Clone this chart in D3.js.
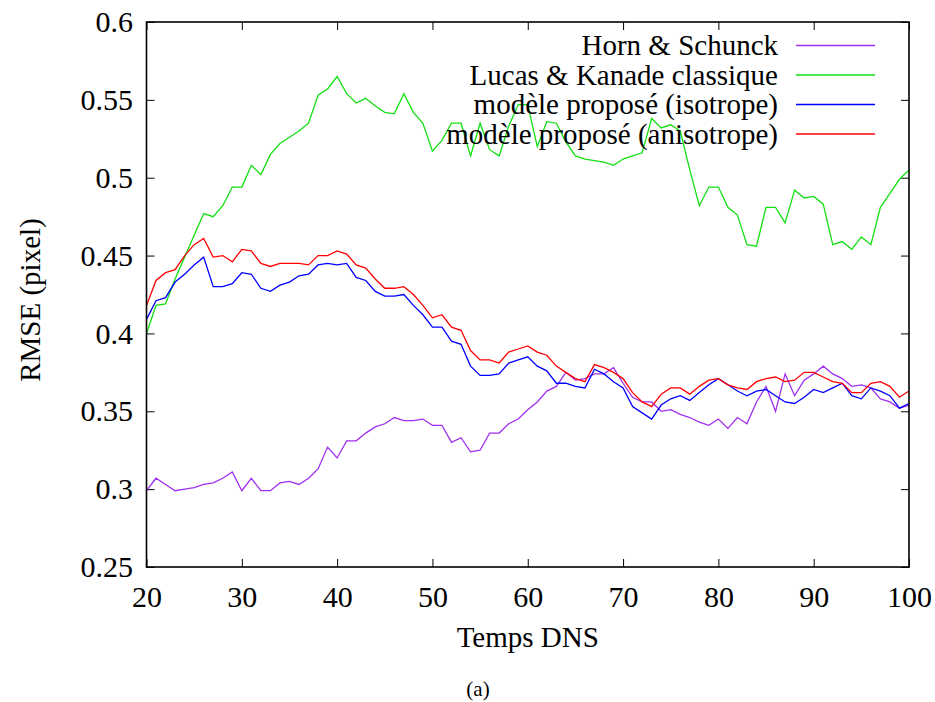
<!DOCTYPE html>
<html>
<head>
<meta charset="utf-8">
<script src="https://cdn.jsdelivr.net/npm/d3@7"></script>
<style>
  body { margin: 0; background: #fff; }
  svg text { font-family: "Liberation Serif", "Times New Roman", Times, "DejaVu Serif", serif; fill: #000; }
</style>
</head>
<body>
<script>
var width = 935;
var height = 702;

var margin = { top: 22, right: 26, bottom: 135, left: 146.5 };
var serif = '"Liberation Serif", "Times New Roman", Times, "DejaVu Serif", serif';

// temps DNS (x)
var temps = d3.range(20, 101);

var xTicks = [20, 30, 40, 50, 60, 70, 80, 90, 100];
var yTicks = [0.25, 0.3, 0.35, 0.4, 0.45, 0.5, 0.55, 0.6];
var yTickLabels = ['0.25', '0.3', '0.35', '0.4', '0.45', '0.5', '0.55', '0.6'];

var seriesNames = [
    'Horn & Schunck',
    'Lucas & Kanade classique',
    'modèle proposé (isotrope)',
    'modèle proposé (anisotrope)'
];

var hornSchunck = [
    0.299, 0.307, 0.303, 0.299, 0.300, 0.301, 0.303, 0.304, 0.307, 0.311,
    0.299, 0.307, 0.299, 0.299, 0.304, 0.305, 0.303, 0.307, 0.313, 0.327,
    0.320, 0.331, 0.331, 0.336, 0.340, 0.342, 0.346, 0.344, 0.344, 0.345,
    0.341, 0.341, 0.330, 0.333, 0.324, 0.325, 0.336, 0.336, 0.342, 0.345,
    0.351, 0.356, 0.363, 0.366, 0.375, 0.370, 0.371, 0.374, 0.374, 0.378,
    0.368, 0.359, 0.356, 0.356, 0.350, 0.351, 0.348, 0.346, 0.343, 0.341,
    0.345, 0.339, 0.346, 0.342, 0.356, 0.366, 0.350, 0.374, 0.360, 0.370,
    0.374, 0.379, 0.374, 0.371, 0.366, 0.367, 0.365, 0.358, 0.356, 0.352,
    0.354
];

var lucasKanade = [
    0.400, 0.418, 0.419, 0.435, 0.449, 0.463, 0.477, 0.475, 0.482, 0.494,
    0.494, 0.508, 0.502, 0.515, 0.522, 0.526, 0.530, 0.535, 0.553, 0.557,
    0.565, 0.554, 0.548, 0.551, 0.546, 0.542, 0.541, 0.554, 0.542, 0.535,
    0.517, 0.524, 0.535, 0.535, 0.514, 0.535, 0.518, 0.514, 0.533, 0.547,
    0.547, 0.520, 0.536, 0.535, 0.523, 0.514, 0.512, 0.511, 0.510, 0.508,
    0.512, 0.514, 0.516, 0.538, 0.532, 0.534, 0.530, 0.505, 0.482, 0.494,
    0.494, 0.481, 0.476, 0.457, 0.456, 0.481, 0.481, 0.471, 0.492, 0.487,
    0.488, 0.483, 0.457, 0.459, 0.454, 0.462, 0.457, 0.481, 0.490, 0.499,
    0.505
];

var isotrope = [
    0.409, 0.421, 0.423, 0.433, 0.438, 0.444, 0.449, 0.430, 0.430, 0.432,
    0.439, 0.438, 0.429, 0.427, 0.431, 0.433, 0.437, 0.438, 0.444, 0.445,
    0.444, 0.445, 0.436, 0.434, 0.427, 0.424, 0.424, 0.425, 0.418, 0.412,
    0.404, 0.404, 0.395, 0.393, 0.379, 0.373, 0.373, 0.374, 0.381, 0.383,
    0.385, 0.379, 0.376, 0.368, 0.368, 0.366, 0.365, 0.377, 0.374, 0.369,
    0.365, 0.353, 0.349, 0.345, 0.354, 0.358, 0.360, 0.357, 0.362, 0.367,
    0.371, 0.367, 0.363, 0.360, 0.363, 0.364, 0.360, 0.356, 0.355, 0.359,
    0.364, 0.362, 0.365, 0.368, 0.360, 0.358, 0.365, 0.363, 0.360, 0.352,
    0.355
];

var anisotrope = [
    0.418, 0.434, 0.439, 0.441, 0.450, 0.457, 0.461, 0.449, 0.450, 0.446,
    0.454, 0.453, 0.445, 0.443, 0.445, 0.445, 0.445, 0.444, 0.450, 0.450,
    0.453, 0.451, 0.444, 0.442, 0.435, 0.429, 0.429, 0.430, 0.425, 0.418,
    0.410, 0.412, 0.404, 0.402, 0.389, 0.383, 0.383, 0.381, 0.388, 0.390,
    0.392, 0.388, 0.386, 0.379, 0.375, 0.371, 0.369, 0.380, 0.378, 0.375,
    0.371, 0.362, 0.356, 0.353, 0.361, 0.365, 0.365, 0.361, 0.366, 0.370,
    0.371, 0.367, 0.365, 0.364, 0.369, 0.371, 0.372, 0.369, 0.370, 0.375,
    0.375, 0.372, 0.369, 0.368, 0.362, 0.362, 0.368, 0.369, 0.366, 0.359,
    0.363
];

var seriesValues = [hornSchunck, lucasKanade, isotrope, anisotrope];
var colors = ['#a02ff0', '#12e012', '#0000ff', '#ff0000'];

var svg = d3.select('body')
    .append('svg')
    .attr('width', width)
    .attr('height', height);

svg.append('rect')
    .attr('width', width)
    .attr('height', height)
    .attr('fill', '#fff');

var x = d3.scaleLinear()
    .domain([20, 100])
    .range([margin.left, width - margin.right]);

var y = d3.scaleLinear()
    .domain([0.25, 0.6])
    .range([height - margin.bottom, margin.top]);

var x0 = x.range()[0], x1 = x.range()[1];
var y0 = y.range()[0], y1 = y.range()[1];

// axes, ticks pointing inward, mirrored on the other side
var yAxis = d3.axisLeft(y)
    .tickValues(yTicks)
    .tickFormat(function(d, i) { return yTickLabels[i]; })
    .tickSize(-8)
    .tickPadding(13.5);
var yAxisR = d3.axisRight(y).tickValues(yTicks).tickFormat('').tickSize(-8);
var xAxis = d3.axisBottom(x)
    .tickValues(xTicks)
    .tickSize(-8)
    .tickPadding(19);
var xAxisT = d3.axisTop(x).tickValues(xTicks).tickFormat('').tickSize(-8);

function styleAxis(g) {
    g.attr('font-family', null).attr('font-size', null);
    g.select('.domain').remove();
    g.selectAll('.tick line').attr('stroke', '#000').attr('stroke-width', 1);
    g.selectAll('text')
        .style('font-family', serif)
        .style('font-size', '30px')
        .attr('fill', '#000');
}

svg.append('g').attr('transform', 'translate(' + x0 + ',0)').call(yAxis).call(styleAxis);
svg.append('g').attr('transform', 'translate(' + x1 + ',0)').call(yAxisR).call(styleAxis);
svg.append('g').attr('transform', 'translate(0,' + y0 + ')').call(xAxis).call(styleAxis);
svg.append('g').attr('transform', 'translate(0,' + y1 + ')').call(xAxisT).call(styleAxis);

// series lines
var line = d3.line()
    .x(function(d, i) { return x(temps[i]); })
    .y(function(d) { return y(d); });

svg.selectAll('path.serie')
    .data(seriesValues)
    .enter()
    .append('path')
    .attr('class', 'serie')
    .attr('fill', 'none')
    .attr('stroke', function(d, i) { return colors[i]; })
    .attr('stroke-width', 1.3)
    .attr('d', line);

// frame
svg.append('rect')
    .attr('x', x0)
    .attr('y', y1)
    .attr('width', x1 - x0)
    .attr('height', y0 - y1)
    .attr('fill', 'none')
    .attr('stroke', '#000')
    .attr('stroke-width', 1.6);

// legend
var legend = svg.selectAll('g.legend')
    .data(seriesNames)
    .enter()
    .append('g')
    .attr('class', 'legend')
    .attr('transform', function(d, i) {
        return 'translate(0,' + (45.5 + i * 29.5) + ')';
    });

legend.append('text')
    .attr('x', 778)
    .attr('y', 9.5)
    .attr('text-anchor', 'end')
    .style('font-family', serif)
    .style('font-size', '29px')
    .text(function(d) { return d; });

legend.append('line')
    .attr('x1', 796)
    .attr('x2', 875)
    .attr('stroke', function(d, i) { return colors[i]; })
    .attr('stroke-width', 1.3);

// axis titles
svg.append('text')
    .attr('transform', 'translate(40,300) rotate(-90)')
    .attr('text-anchor', 'middle')
    .style('font-family', serif)
    .style('font-size', '29px')
    .text('RMSE (pixel)');

svg.append('text')
    .attr('x', (x0 + x1) / 2)
    .attr('y', 647)
    .attr('text-anchor', 'middle')
    .style('font-family', serif)
    .style('font-size', '29px')
    .text('Temps DNS');

svg.append('text')
    .attr('x', 478)
    .attr('y', 696)
    .attr('text-anchor', 'middle')
    .style('font-family', serif)
    .style('font-size', '21px')
    .text('(a)');
</script>
</body>
</html>
